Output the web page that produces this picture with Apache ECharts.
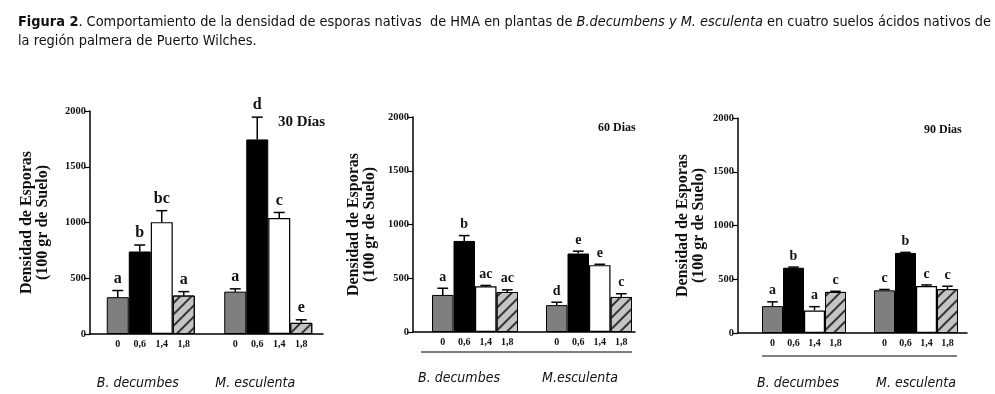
<!DOCTYPE html>
<html>
<head>
<meta charset="utf-8">
<script src="https://cdn.jsdelivr.net/npm/echarts@6/dist/echarts.min.js"></script>
<style>
html,body{margin:0;padding:0;background:#fff;}
#c{width:995px;height:394px;}
</style>
</head>
<body>
<div id="c"></div>
<script>
// ---------------- DATA ----------------
const groups30 = ['B. decumbes', 'M. esculenta'];
const groups60 = ['B. decumbes', 'M.esculenta'];
const groups90 = ['B. decumbes', 'M. esculenta'];
const doses = ['0', '0,6', '1,4', '1,8'];
const yTicks = [0, 500, 1000, 1500, 2000];

// 30 days
const mean30B = [330, 740, 1003, 345];
const mean30M = [380, 1745, 1040, 100];
const err30B = [60, 58, 103, 35];
const err30M = [25, 200, 50, 27];
const let30B = ['a', 'b', 'bc', 'a'];
const let30M = ['a', 'd', 'c', 'e'];

// 60 days
const mean60B = [345, 847, 425, 372];
const mean60M = [250, 730, 622, 326];
const err60B = [62, 50, 8, 20];
const err60M = [27, 22, 8, 30];
const let60B = ['a', 'b', 'ac', 'ac'];
const let60M = ['d', 'e', 'e', 'c'];

// 90 days
const mean90B = [250, 607, 210, 382];
const mean90M = [397, 745, 437, 408];
const err90B = [40, 6, 35, 6];
const err90M = [8, 5, 10, 27];
const let90B = ['a', 'b', 'a', 'c'];
const let90M = ['c', 'b', 'c', 'c'];

const panelTitles = ['30 Días', '60 Dias', '90 Dias'];
const yName = 'Densidad de Esporas\n(100 gr de Suelo)';

// ---------------- LAYOUT / STYLE ----------------
const panels = [
  { groups: groups30, mB: mean30B, mM: mean30M, eB: err30B, eM: err30M, lB: let30B, lM: let30M,
    frame: {left: 90, top: 111, width: 233, height: 223}, barsLeft: 92, barsWidth: 235, bw: 22,
    nameGap: 39, letterSize: 16, groupMargin: 42, groupShift: [13, 13], sep: null,
    title: {left: 273, top: 110, size: 15} },
  { groups: groups60, mB: mean60B, mM: mean60M, eB: err60B, eM: err60M, lB: let60B, lM: let60M,
    frame: {left: 413, top: 117, width: 222, height: 215}, barsLeft: 418, barsWidth: 228, bw: 21.5,
    nameGap: 35, letterSize: 14, groupMargin: 39, groupShift: [16, 9], sep: {x1: 421, x2: 632, y: 352},
    title: {left: 593, top: 117, size: 12} },
  { groups: groups90, mB: mean90B, mM: mean90M, eB: err90B, eM: err90M, lB: let90B, lM: let90M,
    frame: {left: 738, top: 118, width: 229, height: 215}, barsLeft: 748, barsWidth: 224, bw: 21,
    nameGap: 31, letterSize: 14, groupMargin: 43, groupShift: [6, 0], sep: {x1: 762, x2: 957, y: 356},
    title: {left: 919, top: 119, size: 12} }
];

const serif = "'Liberation Serif', 'DejaVu Serif', serif";
const narrow = "'Liberation Sans Narrow', 'DejaVu Sans Condensed', 'Liberation Sans', sans-serif";

const doseStyles = [
  {color: '#7f7f7f', borderColor: '#000', borderWidth: 1},
  {color: '#000000', borderColor: '#000', borderWidth: 1},
  {color: '#ffffff', borderColor: '#000', borderWidth: 1.2},
  {color: '#c4c4c4', borderColor: '#000', borderWidth: 1,
   decal: {symbol: 'rect', symbolSize: 1, color: '#333', dashArrayX: [1, 0], dashArrayY: [1.1, 6], rotation: -Math.PI / 4}}
];

const grid = [], xAxis = [], yAxis = [], series = [], title = [], graphic = [];

title.push({
  left: 13, top: 8,
  text: '{b|Figura 2}. Comportamiento de la densidad de esporas nativas  de HMA en plantas de {i|B.decumbens y M. esculenta} en cuatro suelos ácidos nativos de\nla región palmera de Puerto Wilches.',
  textStyle: {
    fontFamily: narrow, fontSize: 14.4, fontWeight: 'normal', color: '#111', lineHeight: 19,
    rich: {
      b: {fontFamily: narrow, fontSize: 14.4, fontWeight: 'bold', color: '#111'},
      i: {fontFamily: narrow, fontSize: 14.4, fontStyle: 'italic', color: '#111'}
    }
  }
});

panels.forEach((p, pi) => {
  const gFrame = grid.length;
  grid.push({left: p.frame.left, top: p.frame.top, width: p.frame.width, height: p.frame.height});
  const gBars = grid.length;
  grid.push({left: p.barsLeft, top: p.frame.top, width: p.barsWidth, height: p.frame.height});

  // frame axes
  xAxis.push({gridIndex: gFrame, type: 'category', data: p.groups,
    axisLine: {show: true, lineStyle: {color: '#000', width: 1.5}},
    axisTick: {show: false}, axisLabel: {show: false}, splitLine: {show: false}});
  yAxis.push({gridIndex: gFrame, type: 'value', min: yTicks[0], max: yTicks[yTicks.length - 1], interval: 500,
    name: yName, nameLocation: 'middle', nameRotate: 90, nameGap: p.nameGap,
    nameTextStyle: {fontFamily: serif, fontWeight: 'bold', fontSize: 16, color: '#111', lineHeight: 16},
    axisLine: {show: true, lineStyle: {color: '#000', width: 1.5}},
    axisTick: {show: true, length: 6, lineStyle: {color: '#000', width: 1.2}},
    axisLabel: {fontFamily: serif, fontWeight: 'bold', fontSize: 10.5, color: '#111', margin: 4,
      formatter: v => String(v)},
    splitLine: {show: false}});

  // bar axes
  const xb = xAxis.length;
  xAxis.push({gridIndex: gBars, type: 'category', data: p.groups,
    axisLine: {show: false}, axisTick: {show: false}, splitLine: {show: false},
    axisLabel: {show: true, margin: p.groupMargin, interval: 0,
      formatter: (v, i) => '{g' + i + '|' + v + '}',
      rich: {
        g0: {fontFamily: narrow, fontStyle: 'italic', fontSize: 14, color: '#111', padding: [0, 2 * p.groupShift[0], 0, 0]},
        g1: {fontFamily: narrow, fontStyle: 'italic', fontSize: 14, color: '#111', padding: [0, 2 * p.groupShift[1], 0, 0]}
      }}});
  const yb = yAxis.length;
  yAxis.push({gridIndex: gBars, type: 'value', min: yTicks[0], max: yTicks[yTicks.length - 1], show: false});

  doses.forEach((d, k) => {
    series.push({
      type: 'bar', name: d, xAxisIndex: xb, yAxisIndex: yb,
      data: [p.mB[k], p.mM[k]],
      barWidth: p.bw, barGap: '0%',
      itemStyle: doseStyles[k],
      label: {show: true, position: 'bottom', distance: 5, formatter: () => d,
        fontFamily: serif, fontWeight: 'bold', fontSize: 10, color: '#111'},
      emphasis: {disabled: true}, animation: false
    });
    const errs = [p.eB[k], p.eM[k]];
    const lets = [p.lB[k], p.lM[k]];
    series.push({
      type: 'custom', xAxisIndex: xb, yAxisIndex: yb, z: 5, clip: false, animation: false,
      data: [[0, p.mB[k], errs[0]], [1, p.mM[k], errs[1]]],
      renderItem: (params, api) => {
        const c = api.value(0), v = api.value(1), e = api.value(2);
        const base = api.coord([c, v]);
        const top = api.coord([c, v + e]);
        const x = base[0] + (k - 1.5) * p.bw;
        const cap = p.bw * 0.5;
        const ls = {stroke: '#000', lineWidth: 1.5};
        return {type: 'group', children: [
          {type: 'line', shape: {x1: x, y1: base[1], x2: x, y2: top[1]}, style: ls},
          {type: 'line', shape: {x1: x - cap / 2, y1: top[1], x2: x + cap / 2, y2: top[1]}, style: ls},
          {type: 'text', x: x, y: top[1] - 4, style: {text: lets[params.dataIndex], fontFamily: serif,
            fontWeight: 'bold', fontSize: p.letterSize, fill: '#111', align: 'center', verticalAlign: 'bottom'}}
        ]};
      }
    });
  });

  title.push({left: p.title.left, top: p.title.top, text: panelTitles[pi],
    textStyle: {fontFamily: serif, fontWeight: 'bold', fontSize: p.title.size, color: '#111'}});

  if (p.sep) {
    graphic.push({type: 'line', shape: {x1: p.sep.x1, y1: p.sep.y, x2: p.sep.x2, y2: p.sep.y},
      style: {stroke: '#000', lineWidth: 1}});
  }
});

const chart = echarts.init(document.getElementById('c'), null, {renderer: 'canvas'});
chart.setOption({
  backgroundColor: '#fff',
  animation: false,
  title, grid, xAxis, yAxis, series, graphic
});
</script>
</body>
</html>
